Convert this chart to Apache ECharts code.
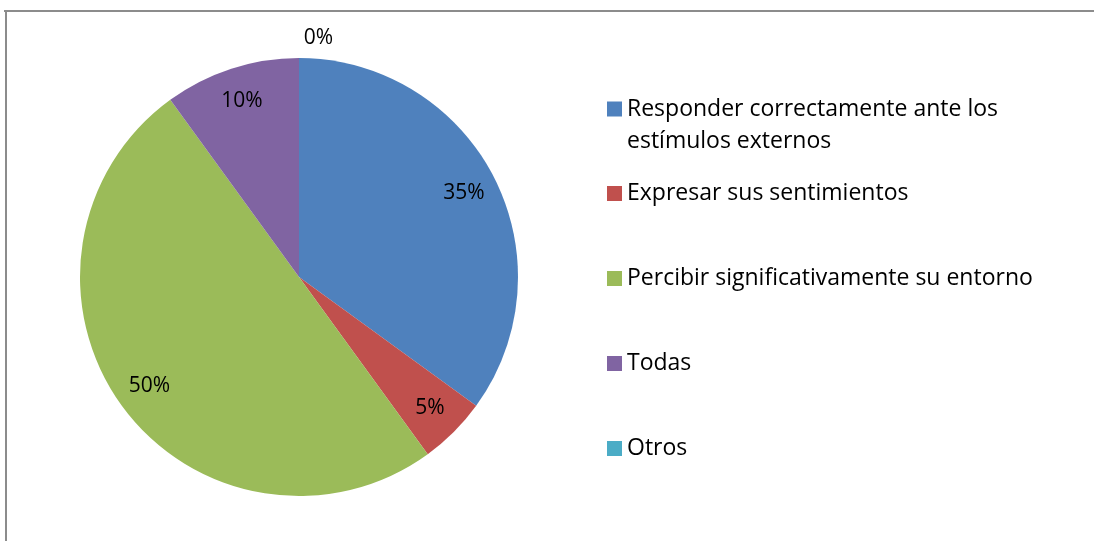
<!DOCTYPE html>
<html>
<head>
<meta charset="utf-8">
<script src="https://cdn.jsdelivr.net/npm/echarts@6/dist/echarts.min.js"></script>
<style>
    html, body { margin: 0; padding: 0; background: #fff; }
    #chart { width: 1094px; height: 541px; }
</style>
</head>
<body>
<div id="chart"></div>
<script>
var categories = ['Responder correctamente ante los estímulos externos', 'Expresar sus sentimientos',
    'Percibir significativamente su entorno', 'Todas', 'Otros'];
var values = [35, 5, 50, 10, 0];
var colors = ['#4f81bd', '#c0504d', '#9bbb59', '#8064a2', '#4bacc6'];

var myChart = echarts.init(document.getElementById('chart'));

var fontName = 'Open Sans';
var center = [299, 277];

// datos del pastel
var pieData = categories.map(function (name, i) {
    return { name: name, value: values[i], itemStyle: { color: colors[i] } };
});

// serie transparente solo para colocar las etiquetas cerca del borde
var labelData = categories.map(function (name, i) {
    var item = { name: name, value: values[i] };
    if (values[i] === 0) {
        item.label = { position: 'outside', distanceToLabelLine: 0, offset: [34, 0] };
        item.labelLine = { show: false, length: 20, length2: 0 };
    }
    return item;
});

option = {
    animation: false,
    color: colors,
    graphic: [
        { type: 'line', shape: { x1: 4, y1: 11, x2: 1094, y2: 11 }, style: { stroke: '#8c8c8c', lineWidth: 2 } },
        { type: 'line', shape: { x1: 6, y1: 11, x2: 6, y2: 541 }, style: { stroke: '#8c8c8c', lineWidth: 2 } }
    ],
    legend: [
        {
            orient: 'vertical',
            left: 607,
            top: 61,
            padding: 0,
            icon: 'rect',
            itemWidth: 15,
            itemHeight: 15,
            data: [categories[0]],
            formatter: function () {
                // linea vacia arriba para que el icono quede junto a la primera linea
                return ' \nResponder correctamente ante los\nestímulos externos';
            },
            textStyle: { fontFamily: fontName, fontSize: 23, color: '#000', lineHeight: 32 }
        },
        {
            orient: 'vertical',
            left: 607,
            top: 181,
            padding: 0,
            icon: 'rect',
            itemWidth: 15,
            itemHeight: 15,
            itemGap: 60,
            data: categories.slice(1),
            textStyle: { fontFamily: fontName, fontSize: 23, color: '#000', lineHeight: 25 }
        }
    ],
    series: [
        {
            type: 'pie',
            center: center,
            radius: 219,
            startAngle: 90,
            clockwise: true,
            silent: true,
            label: { show: false },
            labelLine: { show: false },
            data: pieData
        },
        {
            type: 'pie',
            center: center,
            radius: [145, 219],
            startAngle: 90,
            clockwise: true,
            silent: true,
            avoidLabelOverlap: false,
            minShowLabelAngle: 0,
            itemStyle: { color: 'rgba(0,0,0,0)' },
            label: {
                show: true,
                position: 'inside',
                formatter: '{c}%',
                fontFamily: fontName,
                fontSize: 21,
                color: '#000'
            },
            labelLine: { show: false },
            data: labelData
        }
    ]
};

myChart.setOption(option);
</script>
</body>
</html>
